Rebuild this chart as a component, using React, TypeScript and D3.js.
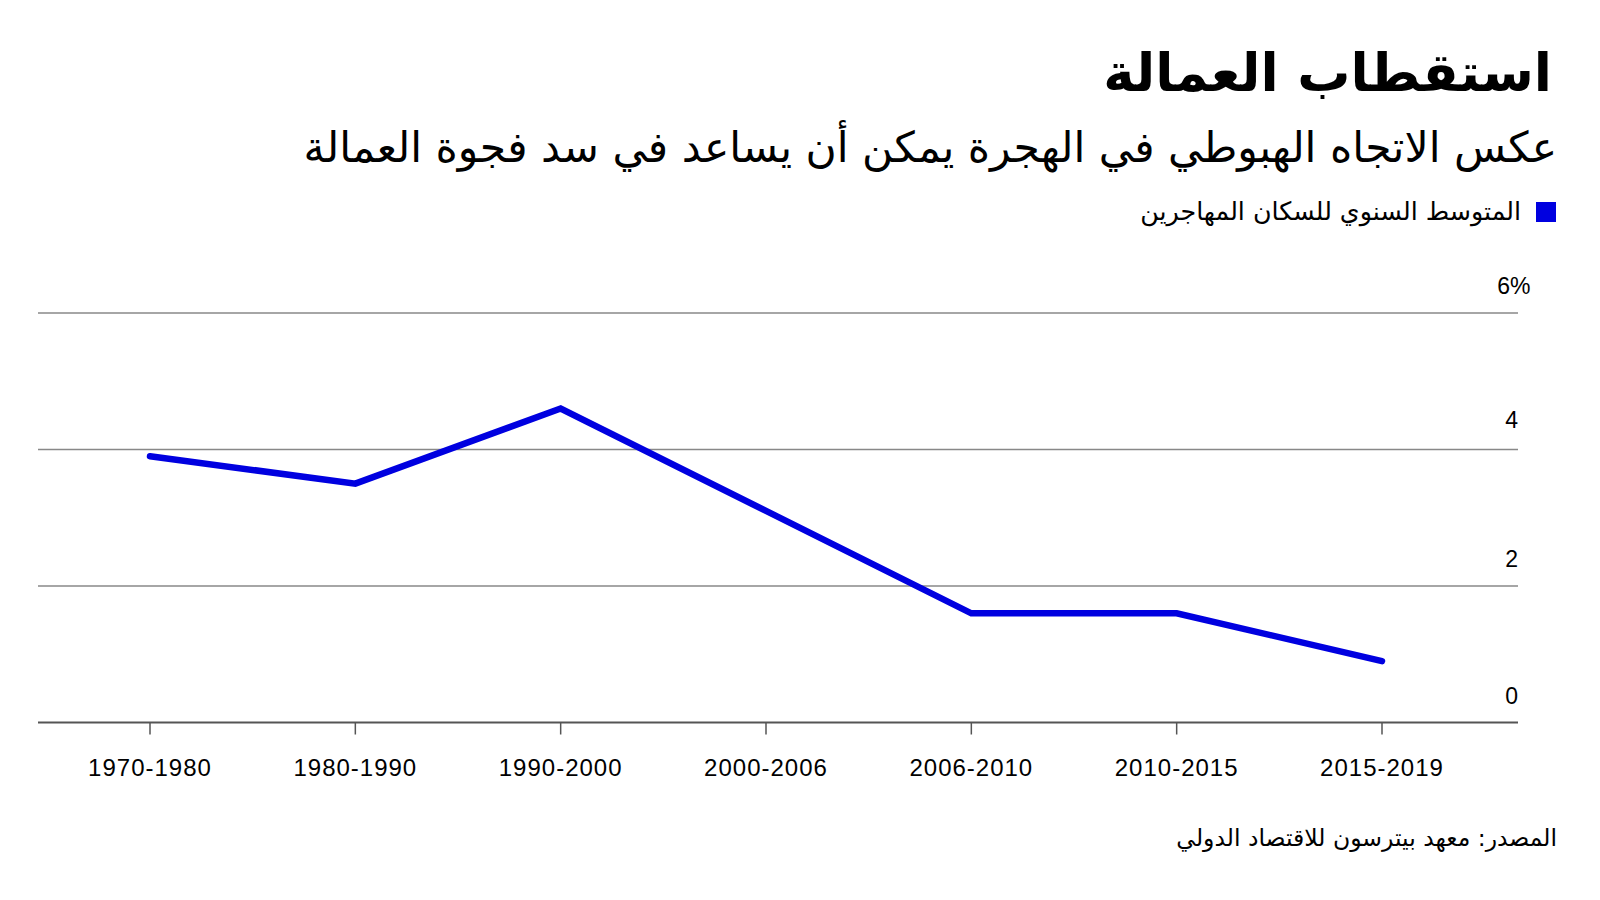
import React from "react";
import * as d3 from "d3";

const categories = ["1970-1980", "1980-1990", "1990-2000", "2000-2006", "2006-2010", "2010-2015", "2015-2019"];
const values = [3.9, 3.5, 4.6, 3.1, 1.6, 1.6, 0.9];
const yTicks = [0, 2, 4, 6];

const title = "استقطاب العمالة";
const subtitle = "عكس الاتجاه الهبوطي في الهجرة يمكن أن يساعد في سد فجوة العمالة";
const legendLabel = "المتوسط السنوي للسكان المهاجرين";
const source = "المصدر: معهد بيترسون للاقتصاد الدولي";

const W = 1600;
const H = 900;
const plotLeft = 38;
const plotRight = 1518;
const arabicFont = "'DejaVu Sans', 'Noto Sans', sans-serif";
const latinFont = "'Liberation Sans', Arial, sans-serif";
const blue = "#0000e0";

export default function App() {
  const x = d3.scalePoint<string>().domain(categories).range([150, 1382]);
  const y = d3.scaleLinear().domain([0, 6]).range([722.5, 313]);
  const line = d3
    .line<number>()
    .x((_, i) => x(categories[i]) as number)
    .y((d) => y(d));

  return (
    <svg
      width={W}
      height={H}
      viewBox={`0 0 ${W} ${H}`}
      style={{ position: "absolute", left: 0, top: 0, display: "block", background: "#fff" }}
    >
      <rect x={0} y={0} width={W} height={H} fill="#fff" />
      <text
        x={1552}
        y={91}
        textAnchor="start"
        direction="rtl"
        fontFamily={arabicFont}
        fontWeight={700}
        fontSize={53}
        fill="#000"
      >
        {title}
      </text>
      <text
        x={1557}
        y={162}
        textAnchor="start"
        direction="rtl"
        fontFamily={arabicFont}
        fontSize={42.5}
        fill="#000"
      >
        {subtitle}
      </text>
      <rect x={1536} y={202} width={20} height={20} fill={blue} />
      <text
        x={1521}
        y={220}
        textAnchor="start"
        direction="rtl"
        fontFamily={arabicFont}
        fontSize={25.3}
        fill="#000"
      >
        {legendLabel}
      </text>

      {yTicks.map((t) => (
        <g key={t}>
          <line
            x1={plotLeft}
            x2={plotRight}
            y1={y(t)}
            y2={y(t)}
            stroke={t === 0 ? "#555" : "#888"}
            strokeWidth={t === 0 ? 2 : 1.5}
          />
          <text
            x={t === 6 ? plotRight - 8 : plotRight}
            y={y(t) - (t === 4 ? 22 : 19)}
            textAnchor="end"
            fontFamily={latinFont}
            fontSize={23}
            fill="#000"
          >
            {t}
          </text>
          {t === 6 ? (
            <text
              x={plotRight - 8}
              y={y(t) - 19}
              textAnchor="start"
              fontFamily={latinFont}
              fontSize={23}
              fill="#000"
            >
              %
            </text>
          ) : null}
        </g>
      ))}

      {categories.map((c) => (
        <g key={c}>
          <line
            x1={x(c)}
            x2={x(c)}
            y1={y(0)}
            y2={y(0) + 12}
            stroke="#555"
            strokeWidth={1.5}
          />
          <text
            x={x(c)}
            y={776}
            textAnchor="middle"
            fontFamily={latinFont}
            fontSize={24}
            letterSpacing={1}
            fill="#000"
          >
            {c}
          </text>
        </g>
      ))}

      <path
        d={line(values) || ""}
        fill="none"
        stroke={blue}
        strokeWidth={6.5}
        strokeLinejoin="miter"
        strokeLinecap="round"
      />

      <text
        x={1557}
        y={846}
        textAnchor="start"
        direction="rtl"
        fontFamily={arabicFont}
        fontSize={23.5}
        fill="#000"
      >
        {source}
      </text>
    </svg>
  );
}
